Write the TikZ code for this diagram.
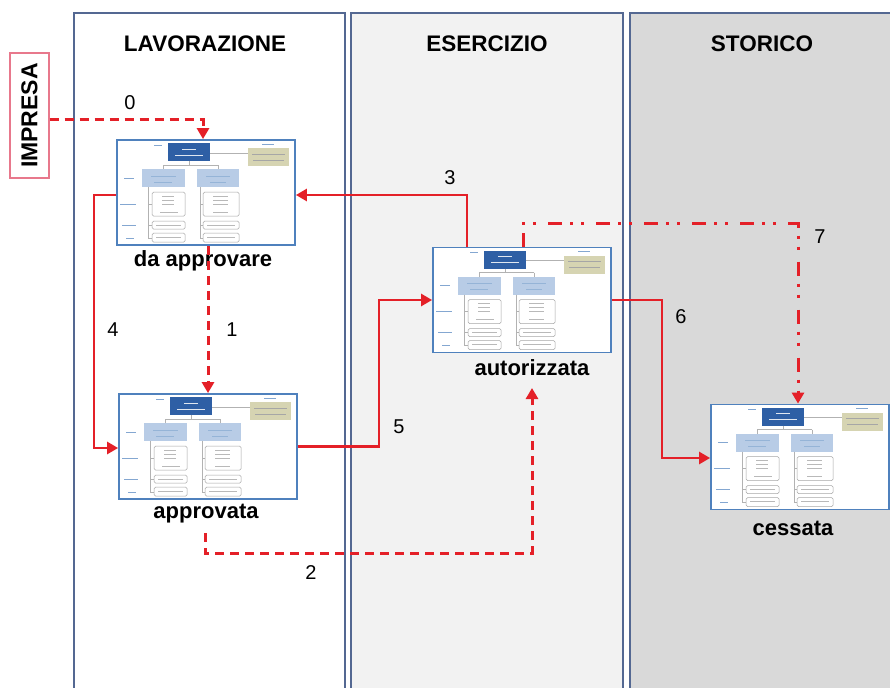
\documentclass[tikz,border=0pt]{standalone}
\usepackage{fontspec}
\setmainfont{Liberation Sans}
\usetikzlibrary{arrows.meta}
\definecolor{redline}{RGB}{228,32,40}
\definecolor{colborder}{RGB}{84,104,146}
\definecolor{col2fill}{RGB}{242,242,242}
\definecolor{col3fill}{RGB}{217,217,217}
\definecolor{boxborder}{RGB}{79,129,189}
\definecolor{tdark}{RGB}{46,95,165}
\definecolor{tlight}{RGB}{184,204,230}
\definecolor{tolive}{RGB}{214,212,178}
\definecolor{impborder}{RGB}{232,120,140}
\tikzset{
  colbox/.style={draw=colborder, line width=2pt},
  header/.style={font=\fontsize{22.5}{26}\selectfont\bfseries, inner sep=0pt},
  statelabel/.style={font=\fontsize{22}{26}\selectfont\bfseries, inner sep=0pt},
  numlabel/.style={font=\fontsize{20}{24}\selectfont, inner sep=0pt},
  thumbbox/.style={draw=boxborder, line width=1.8pt, fill=white, minimum width=178pt, minimum height=105pt, inner sep=0pt},
  solidred/.style={draw=redline, line width=2.6pt, -{Triangle[length=11pt,width=12pt]}},
  dashedred/.style={draw=redline, line width=3pt, dash pattern=on 9pt off 6pt, -{Triangle[length=11pt,width=12pt]}},
  dotdashred/.style={draw=redline, line width=3pt, dash pattern=on 14pt off 8pt on 3pt off 8pt on 3pt off 12pt, -{Triangle[length=11pt,width=12pt]}},
  tline/.style={draw=gray!60, line width=0.6pt},
  ttext/.style={draw=gray!55, line width=0.7pt},
  tlbl/.style={draw=boxborder!70, line width=0.7pt},
  thumb/.pic={
    \draw[tline] (94,14) -- (132,14);
    \fill[tdark] (52,4) rectangle (94,22);
    \draw[white!85!tdark, line width=0.8pt] (66,10) -- (80,10) (59,16) -- (87,16);
    \fill[tolive] (132,9) rectangle (173,27);
    \draw[gray!70, line width=0.7pt] (136,15) -- (169,15) (137,21) -- (168,21);
    \draw[tlbl] (38,6) -- (46,6) (146,5) -- (158,5);
    \draw[tline] (73,22) -- (73,26) (47,26) -- (102,26) (47,26) -- (47,30) (102,26) -- (102,30);
    \fill[tlight] (26,30) rectangle (69,48);
    \fill[tlight] (81,30) rectangle (123,48);
    \draw[boxborder!60, line width=0.7pt] (35,37) -- (60,37) (38,43) -- (56,43) (90,37) -- (114,37) (94,43) -- (110,43);
    \draw[tline] (32,48) -- (32,99) (84,48) -- (84,99);
    \draw[tline] (32,65) -- (36,65) (32,86) -- (36,86) (32,99) -- (36,99);
    \draw[tline] (84,65) -- (87,65) (84,86) -- (87,86) (84,99) -- (87,99);
    \draw[gray!70, line width=0.6pt, rounded corners=1.5pt, fill=white]
      (36,53) rectangle (69,77) (36,82) rectangle (69,90) (36,94) rectangle (69,103)
      (87,53) rectangle (123,77) (87,82) rectangle (123,90) (87,94) rectangle (123,103);
    \draw[ttext] (46,57) -- (58,57) (46,61) -- (58,61) (46,65) -- (58,65) (44,73) -- (62,73)
      (97,57) -- (112,57) (97,61) -- (112,61) (97,65) -- (112,65) (97,73) -- (112,73)
      (40,86) -- (65,86) (40,98) -- (65,98) (91,86) -- (119,86) (91,98) -- (119,98);
    \draw[tlbl] (8,39) -- (18,39) (4,65) -- (20,65) (6,86) -- (20,86) (10,99) -- (18,99);
  }
}
\begin{document}
\begin{tikzpicture}[x=1pt, y=-1pt]
\useasboundingbox (0,0) rectangle (890,687);
\begin{scope}
\clip (0,0) rectangle (890,687);
\fill[white] (0,0) rectangle (890,687);
% columns
\filldraw[colbox, fill=white] (74,13) rectangle (345,720);
\filldraw[colbox, fill=col2fill] (351,13) rectangle (623,720);
\filldraw[colbox, fill=col3fill] (630,13) rectangle (900,720);
\end{scope}
% headers
\node[header] (h1) at (205,44) {LAVORAZIONE};
\node[header] (h2) at (487,44) {ESERCIZIO};
\node[header] (h3) at (762,44) {STORICO};
% impresa
\node[draw=impborder, line width=1.2pt, fill=white, rotate=90, minimum width=125pt, minimum height=39pt, inner sep=0pt, font=\fontsize{23}{27}\selectfont\bfseries] (imp) at (29.5,115.5) {IMPRESA};
% state boxes
\node[thumbbox] (b1) at (206,192.5) {};
\pic at (b1.north west) {thumb};
\node[thumbbox] (b2) at (208,446.5) {};
\pic at (b2.north west) {thumb};
\node[thumbbox] (b3) at (522,300) {};
\pic at (b3.north west) {thumb};
\node[thumbbox] (b4) at (800,457) {};
\pic at (b4.north west) {thumb};
% state labels
\node[statelabel] (l1) at (203,261) {da approvare};
\node[statelabel] (l2) at (206,514) {approvata};
\node[statelabel] (l3) at (532,368) {autorizzata};
\node[statelabel] (l4) at (793,528) {cessata};
% number labels
\node[numlabel] (n0) at (130,103) {0};
\node[numlabel] (n1) at (232,330) {1};
\node[numlabel] (n2) at (311,573) {2};
\node[numlabel] (n3) at (450,178) {3};
\node[numlabel] (n4) at (113,330) {4};
\node[numlabel] (n5) at (399,427) {5};
\node[numlabel] (n6) at (681,317) {6};
\node[numlabel] (n7) at (820,237) {7};
% connectors
\coordinate (s2) at (205,533);
\coordinate (e2) at (532,388);
\draw[dashedred] ([yshift=-4.5pt]imp.south) -| ([xshift=-3pt]b1.north);
\draw[dashedred] ([xshift=2pt]b1.south) -- (b2.north);
\draw[dashedred] (s2) -- ++(0,20) -| (e2);
\draw[solidred] ([xshift=-55pt]b3.north) |- ([yshift=-2.5pt]b1.east);
\draw[solidred] ([yshift=-2.5pt]b1.west) -- ++(-22,0) |- ([yshift=-1.5pt]b2.west);
\draw[solidred] (b2.east) -- ++(81,0) |- (b3.west);
\draw[solidred] (b3.east) -- ++(50,0) |- ([yshift=-1pt]b4.west);
\draw[dotdashred] ([xshift=1pt]b3.north) -- ++(0,-23) -| ([xshift=-2pt]b4.north);
\end{tikzpicture}
\end{document}
